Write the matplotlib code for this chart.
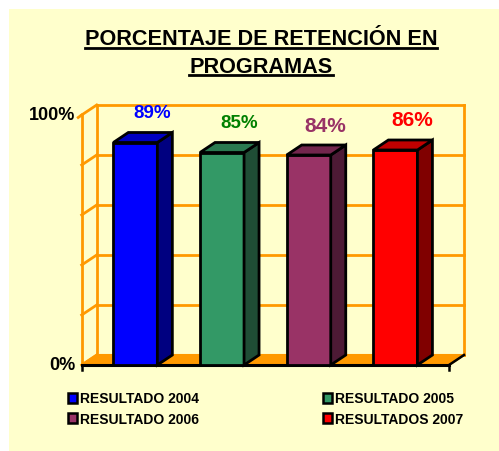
import matplotlib
matplotlib.use("Agg")
import matplotlib.pyplot as plt
from matplotlib.patches import Polygon, Patch, Rectangle
from matplotlib.lines import Line2D

# ---data--- #
labels = ['RESULTADO 2004', 'RESULTADO 2005', 'RESULTADO 2006', 'RESULTADOS 2007']
values = [89, 85, 84, 86]
value_text = ['89%', '85%', '84%', '86%']
front_colors = ['#0000FF', '#339966', '#993366', '#FF0000']
side_colors = ['#000080', '#1F4D35', '#4D1A35', '#800000']
top_colors = ['#0000C0', '#2A7A50', '#73264D', '#C00000']
text_colors = ['#0000FF', '#008000', '#993366', '#FF0000']
text_sizes = [13.5, 13.5, 15, 15]
ticks = [0, 20, 40, 60, 80, 100]
tick_labels = ['0%', '', '', '', '', '100%']

plt.rcParams['font.family'] = ['Liberation Sans', 'DejaVu Sans']
plt.rcParams['font.weight'] = 'bold'

W, H = 499, 452
fig = plt.figure(figsize=(W / 100, H / 100), dpi=100)
fig.patch.set_facecolor('white')
fig.patches.append(Rectangle((9 / W, 0), 1, (H - 10) / H, transform=fig.transFigure,
                             facecolor='#FFFFCC', edgecolor='none', zorder=-10))

ax = fig.add_axes([61.3 / W, 66 / H, 424.8 / W, 300 / H])
ax.set_xlim(-0.6, 4.3)
ax.set_ylim(-8, 112)
ax.axis('off')

bw = 0.508      # bar width
dx, dy = 0.173, 4   # depth offset
x0, x1 = -0.365, 3.872
orange = '#FF9900'

# floor
ax.add_patch(Polygon([(x0, 0), (x1, 0), (x1 + dx, dy), (x0 + dx, dy)],
                     closed=True, facecolor=orange, edgecolor=orange, lw=1.5, zorder=1))
# back wall + grid
for t in ticks:
    ax.plot([x0 + dx, x1 + dx], [t + dy, t + dy], color=orange, lw=2, zorder=1)
    ax.plot([x0, x0 + dx], [t, t + dy], color=orange, lw=2, zorder=1)
ax.plot([x1 + dx, x1 + dx], [dy, 100 + dy], color=orange, lw=2, zorder=1)
ax.plot([x0 + dx, x0 + dx], [dy, 100 + dy], color=orange, lw=2, zorder=1)
ax.plot([x0, x0], [0, 100], color=orange, lw=2, zorder=1)
ax.plot([x0 - 0.04, x0], [99, 100], color=orange, lw=2, zorder=1)
# front edge of floor
ax.plot([x0, x1], [0, 0], color='black', lw=2.2, zorder=2)
ax.plot([x1, x1 + dx], [0, dy], color='black', lw=1.8, zorder=2)
ax.plot([x1, x1], [0, -2], color='black', lw=1.8, zorder=2)
ax.plot([x0, x0], [0, -2], color='black', lw=1.8, zorder=2)

for t, lab in zip(ticks, tick_labels):
    if lab:
        ax.text(x0 - 0.07, t, lab, ha='right', va='center', fontsize=13,
                fontweight='bold', color='black')

# bars
for i, v in enumerate(values):
    l, r = i, i + bw
    ax.add_patch(Polygon([(l, 0), (r, 0), (r, v), (l, v)], closed=True,
                         facecolor=front_colors[i], edgecolor='black', lw=2, zorder=3))
    ax.add_patch(Polygon([(r, 0), (r + dx, dy), (r + dx, v + dy), (r, v)], closed=True,
                         facecolor=side_colors[i], edgecolor='black', lw=2, zorder=3))
    ax.add_patch(Polygon([(l, v), (r, v), (r + dx, v + dy), (l + dx, v + dy)], closed=True,
                         facecolor=top_colors[i], edgecolor='black', lw=2, zorder=3))
    ax.text(i + 0.45, v + 12, value_text[i], ha='center', va='center',
            fontsize=text_sizes[i], fontweight='bold', color=text_colors[i])

# title with underline
title_lines = ['PORCENTAJE DE RETENCIÓN EN', 'PROGRAMAS']
baselines = [45, 72.7]
fig.canvas.draw()
renderer = fig.canvas.get_renderer()
for line, base in zip(title_lines, baselines):
    t = fig.text(261 / W, 1 - base / H, line, ha='center', va='baseline',
                 fontsize=15.6, fontweight='bold', color='black')
    bb = t.get_window_extent(renderer=renderer)
    yl = (H - base - 3.5) / H
    fig.add_artist(Line2D([bb.x0 / W, bb.x1 / W], [yl, yl], color='black', lw=2,
                          transform=fig.transFigure))

# legend (column-wise fill -> reorder)
order = [0, 2, 1, 3]
handles = [Patch(facecolor=front_colors[k], edgecolor='black', lw=1.8) for k in order]
fig.legend(handles, [labels[k] for k in order], ncol=2, loc='upper left',
           bbox_to_anchor=(55 / W, 1 - 380 / H), frameon=False,
           prop={'size': 10, 'weight': 'bold'}, handlelength=0.7, handleheight=0.7,
           handletextpad=0.2, columnspacing=8.9, labelspacing=0.45)

plt.savefig('out.png', dpi=100)
